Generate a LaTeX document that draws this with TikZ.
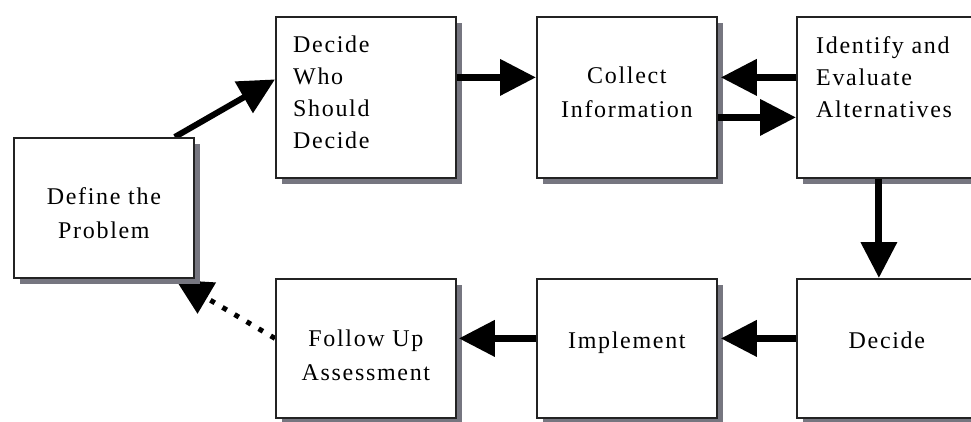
\documentclass[tikz,border=0pt]{standalone}
\usepackage{fontspec}
\setmainfont{Liberation Serif}[LetterSpace=7]
\usetikzlibrary{arrows.meta,calc,shadows}
\definecolor{shadowc}{RGB}{118,118,128}
\definecolor{edgec}{RGB}{35,35,35}
\pgfdeclarelayer{background}
\pgfsetlayers{background,main}
\begin{document}
\begin{tikzpicture}[x=1pt,y=-1pt,
  box/.style={draw=edgec, line width=1.8pt, fill=white, minimum width=180pt,
    inner sep=0pt, anchor=north west,
    drop shadow={shadow xshift=6pt, shadow yshift=-6pt, fill=shadowc, opacity=1}},
  txt/.style={inner sep=0pt, font=\fontsize{24}{32}\selectfont},
  txtc/.style={inner sep=0pt, align=center, anchor=base, font=\fontsize{24}{34}\selectfont},
  flow/.style={line width=7pt, -{Triangle[length=36pt,width=35pt]}},
  diag/.style={line width=6pt, -{Triangle[length=36pt,width=35pt]}},
  back/.style={line width=5pt, dash pattern=on 5pt off 9pt, -{Triangle[length=36pt,width=35pt]}}
]
\useasboundingbox (0,0) rectangle (971,421);
\clip (0,0) rectangle (971,421);

% boxes
\node[box, minimum height=140pt] (define) at (13,137) {};
\node[box, minimum height=161pt] (who) at (275,16) {};
\node[box, minimum height=161pt] (collect) at (536,16) {};
\node[box, minimum height=161pt] (ident) at (796,16) {};
\node[box, minimum height=139pt] (followup) at (275,278) {};
\node[box, minimum height=139pt] (implement) at (536,278) {};
\node[box, minimum height=139pt] (decide) at (796,278) {};

% texts (base anchor = last line's baseline)
\node[txtc] (define-t) at ($(define.north)+(0,101)$) {Define the\\Problem};
\node[txt, anchor=base west, align=left] (who-t) at ($(who.north west)+(18,132)$) {Decide\\Who\\Should\\Decide};
\node[txtc] (collect-t) at ($(collect.north)+(0,101)$) {Collect\\Information};
\node[txt, anchor=base west, align=left] (ident-t) at ($(ident.north west)+(20,101)$) {Identify and\\Evaluate\\Alternatives};
\node[txtc] (followup-t) at ($(followup.north)+(0,102)$) {Follow Up\\Assessment};
\node[txtc] (implement-t) at ($(implement.north)+(0,70)$) {Implement};
\node[txtc] (decide-t) at ($(decide.north)+(0,70)$) {Decide};

% connectors behind boxes
\begin{pgfonlayer}{background}
\fill[white] (0,0) rectangle (971,421);
\draw[diag] ($(define.north east)+(-20,0)$) -- ($(who.west)+(0,-18)$);
\draw[back] ($(followup.west)+(0,-10)$) -- ($(define.south east)+(-19,1)$);
\end{pgfonlayer}

% connectors
\draw[flow] ($(who.east)+(0,-20)$) -- ($(collect.west)+(0,-20)$);
\draw[flow] ($(ident.west)+(0,-20)$) -- ($(collect.east)+(3,-20)$);
\draw[flow] ($(collect.east)+(0,20)$) -- ($(ident.west)+(0,20)$);
\draw[flow] ($(ident.south)+(-8,0)$) -- ($(decide.north)+(-8,0)$);
\draw[flow] ($(decide.west)+(0,-10)$) -- ($(implement.east)+(3,-10)$);
\draw[flow] ($(implement.west)+(0,-10)$) -- ($(followup.east)+(2,-10)$);
\end{tikzpicture}
\end{document}
